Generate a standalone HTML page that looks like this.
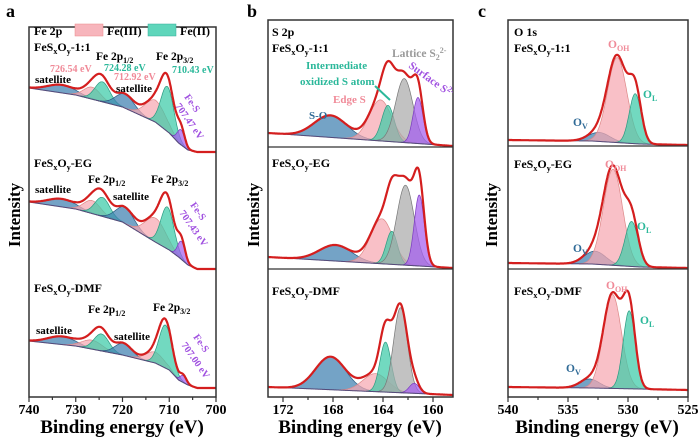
<!DOCTYPE html>
<html><head><meta charset="utf-8"><style>
html,body{margin:0;padding:0;background:#fff;}
svg, svg text{font-family:"Liberation Serif","Times New Roman",serif;font-weight:bold;}
</style></head><body>
<svg id="fig" width="700" height="440" viewBox="0 0 700 440" xmlns="http://www.w3.org/2000/svg" font-family="Liberation Serif, serif" font-weight="bold">
<g id="marks"></g>
<g id="texts" font-family="Liberation Serif, serif">
<text x="6" y="17" font-size="18">a</text>
<text x="247" y="17" font-size="18">b</text>
<text x="478" y="17" font-size="18">c</text>
<text transform="translate(20,215) rotate(-90)" text-anchor="middle" font-size="17">Intensity</text>
<text transform="translate(259,215) rotate(-90)" text-anchor="middle" font-size="17">Intensity</text>
<text transform="translate(497,215) rotate(-90)" text-anchor="middle" font-size="17">Intensity</text>
<text x="122" y="433" text-anchor="middle" font-size="19">Binding energy (eV)</text>
<text x="360" y="433" text-anchor="middle" font-size="19">Binding energy (eV)</text>
<text x="597" y="433" text-anchor="middle" font-size="19">Binding energy (eV)</text>

<!-- panel a labels -->
<g font-size="12">
<text x="34" y="35">Fe 2p</text>
<rect x="75" y="24" width="28" height="12" fill="#f7b5bc" stroke="#e88" stroke-width="0.5"/>
<text x="107" y="35">Fe(III)</text>
<rect x="148" y="24" width="28" height="12" fill="#5fd6bb" stroke="#3a9" stroke-width="0.5"/>
<text x="180" y="35">Fe(II)</text>
<text x="34" y="51">FeS<tspan font-size="8" dy="3">x</tspan><tspan dy="-3">O</tspan><tspan font-size="8" dy="3">y</tspan><tspan dy="-3">-1:1</tspan></text>
<text x="96" y="60" font-size="11.5">Fe 2p<tspan font-size="8" dy="3">1/2</tspan></text>
<text x="156" y="60" font-size="11.5">Fe 2p<tspan font-size="8" dy="3">3/2</tspan></text>
<text x="50" y="72" font-size="10" fill="#f08a98">726.54 eV</text>
<text x="104" y="71" font-size="10" fill="#2bb89a">724.28 eV</text>
<text x="114" y="80" font-size="10" fill="#f08a98">712.92 eV</text>
<text x="172" y="73" font-size="10" fill="#2bb89a">710.43 eV</text>
<text x="35" y="83" font-size="11">satellite</text>
<text x="116" y="92" font-size="11">satellite</text>
<text transform="translate(184,97) rotate(55)" font-size="10" fill="#a050e0">Fe-S</text>
<text transform="translate(175,106) rotate(55)" font-size="10" fill="#a050e0">707.47 eV</text>

<text x="34" y="167">FeS<tspan font-size="8" dy="3">x</tspan><tspan dy="-3">O</tspan><tspan font-size="8" dy="3">y</tspan><tspan dy="-3">-EG</tspan></text>
<text x="88" y="183" font-size="11.5">Fe 2p<tspan font-size="8" dy="3">1/2</tspan></text>
<text x="151" y="183" font-size="11.5">Fe 2p<tspan font-size="8" dy="3">3/2</tspan></text>
<text x="35" y="193" font-size="11">satellite</text>
<text x="113" y="200" font-size="11">satellite</text>
<text transform="translate(190,205) rotate(55)" font-size="10" fill="#a050e0">Fe-S</text>
<text transform="translate(179,213) rotate(55)" font-size="10" fill="#a050e0">707.43 eV</text>

<text x="34" y="292">FeS<tspan font-size="8" dy="3">x</tspan><tspan dy="-3">O</tspan><tspan font-size="8" dy="3">y</tspan><tspan dy="-3">-DMF</tspan></text>
<text x="88" y="313" font-size="11.5">Fe 2p<tspan font-size="8" dy="3">1/2</tspan></text>
<text x="153" y="311" font-size="11.5">Fe 2p<tspan font-size="8" dy="3">3/2</tspan></text>
<text x="36" y="334" font-size="11">satellite</text>
<text x="114" y="340" font-size="11">satellite</text>
<text transform="translate(193,337) rotate(55)" font-size="10" fill="#a050e0">Fe-S</text>
<text transform="translate(181,345) rotate(55)" font-size="10" fill="#a050e0">707.00 eV</text>
</g>

<!-- panel b labels -->
<g font-size="12">
<text x="272" y="36">S 2p</text>
<text x="272" y="52">FeS<tspan font-size="8" dy="3">x</tspan><tspan dy="-3">O</tspan><tspan font-size="8" dy="3">y</tspan><tspan dy="-3">-1:1</tspan></text>
<text x="392" y="57" font-size="11.5" fill="#9a9a9a">Lattice S<tspan font-size="8" dy="3">2</tspan><tspan font-size="8" dy="-7">2-</tspan></text>
<text x="306" y="69" font-size="11" fill="#2bb89a">Intermediate</text>
<text x="300" y="85" font-size="11" fill="#2bb89a">oxidized S atom</text>
<line x1="375" y1="86" x2="390" y2="100" stroke="#2bb89a" stroke-width="2"/>
<text x="333" y="103" font-size="11" fill="#f08a98">Edge S</text>
<text x="309" y="119" font-size="11" fill="#2f6a96">S-O</text>
<text transform="translate(408,67) rotate(36)" font-size="11" fill="#a050e0">Surface S<tspan font-size="8" dy="-4">2-</tspan></text>
<text x="272" y="167">FeS<tspan font-size="8" dy="3">x</tspan><tspan dy="-3">O</tspan><tspan font-size="8" dy="3">y</tspan><tspan dy="-3">-EG</tspan></text>
<text x="272" y="295">FeS<tspan font-size="8" dy="3">x</tspan><tspan dy="-3">O</tspan><tspan font-size="8" dy="3">y</tspan><tspan dy="-3">-DMF</tspan></text>
</g>

<!-- panel c labels -->
<g font-size="12">
<text x="514" y="36">O 1s</text>
<text x="514" y="52">FeS<tspan font-size="8" dy="3">x</tspan><tspan dy="-3">O</tspan><tspan font-size="8" dy="3">y</tspan><tspan dy="-3">-1:1</tspan></text>
<text x="608" y="48" font-size="11.5" fill="#f08a98">O<tspan font-size="8" dy="3">OH</tspan></text>
<text x="643" y="98" font-size="11.5" fill="#2bb89a">O<tspan font-size="8" dy="3">L</tspan></text>
<text x="573" y="126" font-size="11.5" fill="#2f6a96">O<tspan font-size="8" dy="3">V</tspan></text>
<text x="514" y="168">FeS<tspan font-size="8" dy="3">x</tspan><tspan dy="-3">O</tspan><tspan font-size="8" dy="3">y</tspan><tspan dy="-3">-EG</tspan></text>
<text x="605" y="168" font-size="11.5" fill="#f08a98">O<tspan font-size="8" dy="3">OH</tspan></text>
<text x="637" y="230" font-size="11.5" fill="#2bb89a">O<tspan font-size="8" dy="3">L</tspan></text>
<text x="573" y="252" font-size="11.5" fill="#2f6a96">O<tspan font-size="8" dy="3">V</tspan></text>
<text x="514" y="295">FeS<tspan font-size="8" dy="3">x</tspan><tspan dy="-3">O</tspan><tspan font-size="8" dy="3">y</tspan><tspan dy="-3">-DMF</tspan></text>
<text x="606" y="289" font-size="11.5" fill="#f08a98">O<tspan font-size="8" dy="3">OH</tspan></text>
<text x="640" y="324" font-size="11.5" fill="#2bb89a">O<tspan font-size="8" dy="3">L</tspan></text>
<text x="566" y="372" font-size="11.5" fill="#2f6a96">O<tspan font-size="8" dy="3">V</tspan></text>
</g>
</g>
</svg>
<script>
// ---------- data ----------
// Panel a: Fe 2p
const aTypes = ["sat","fe3","fe2","sat","fe3","fe2","fes"];
const aCenters = [[733.0,726.5,724.3,719.5,712.9,710.4,707.5],[733.0,726.5,724.3,719.5,712.9,710.4,707.4],[733.0,726.5,724.5,719.8,713.0,710.8,707.0]];
const aAmps = [[8,12,20,14,22,45,15],[8,13,19,16,24,42,18],[8,9,17,12,11,43,7]];
const aSigmas = [[3.0,1.8,1.6,2.0,2.2,1.4,0.8],[3.0,1.8,1.6,2.0,2.2,1.4,0.8],[3.0,2.2,1.6,1.8,2.0,1.4,0.7]];
const aBgE = [740,730,720,713,710,708,706,704,700];
const aBgV = [[64,57,45,30,19,9,2,0,0],[67,60,47,27,19,12,4,0,0],[47,42,33,25,18,8,3,0,0]];
const aBase = [152,269,388];
// Panel b: S 2p
const bTypes = ["so","edge","inter","lattice","surface"];
const bCenters = [[168.2,164.2,163.6,162.3,161.2],[167.8,164.1,163.3,162.2,161.1],[168.2,164.6,163.8,162.6,161.5]];
const bAmps = [[22,41,36,64,46],[16,45,33,80,71],[33,18,50,85,10]];
const bSigmas = [[1.3,0.9,0.5,0.7,0.4],[1.3,0.9,0.45,0.7,0.4],[1.2,1.0,0.45,0.55,0.4]];
const bBgE = [173.2,158.4];
const bBgV = [[13,0],[11,0],[8,0]];
const bBase = [146,268,395];
// Panel c: O 1s
const cTypes = ["ov","ooh","ol"];
const cCenters = [[532.4,530.9,529.4],[532.75,531.25,529.7],[533.2,531.3,529.9]];
const cAmps = [[9,85,50],[13,96,45],[9,94,78]];
const cSigmas = [[0.9,0.8,0.5],[0.9,0.8,0.55],[0.8,0.75,0.5]];
const cBgE = [540,533,529,525];
const cBgV = [[5,4,1,0],[5,4,1,0],[3,2,1,0]];
const cBase = [145,268,390];
// ticks
const aTicks = [740,730,720,710,700];
const bTicks = [172,168,164,160];
const cTicks = [540,535,530,525];

// ---------- styles ----------
const compStyle = {
  sat:{fill:"#3f7fb0",stroke:"#2a5a80"}, fe3:{fill:"#f7a8b2",stroke:"#d88"}, fe2:{fill:"#3ccaa8",stroke:"#2a9a80"},
  fes:{fill:"#a55df0",stroke:"#7a3ac0"}, so:{fill:"#3f7fb0",stroke:"#2a5a80"}, edge:{fill:"#f7a8b2",stroke:"#d88"},
  inter:{fill:"#3ccaa8",stroke:"#2a9a80"}, lattice:{fill:"#aaaaaa",stroke:"#777"}, surface:{fill:"#a55df0",stroke:"#7a3ac0"},
  ov:{fill:"#3f7fb0",stroke:"#2a5a80"}, ooh:{fill:"#f7a8b2",stroke:"#d88"}, ol:{fill:"#3ccaa8",stroke:"#2a9a80"}
};
const NS="http://www.w3.org/2000/svg";
const marks=document.getElementById('marks');
function mk(tag,attrs,parent){const e=document.createElementNS(NS,tag);for(const k in attrs)e.setAttribute(k,attrs[k]);(parent||marks).appendChild(e);return e;}
function interp(xs,ys,x){
  const asc=xs[0]<xs[xs.length-1];
  for(let i=0;i<xs.length-1;i++){const a=xs[i],b=xs[i+1];
    if((x<=a&&x>=b)||(x>=a&&x<=b)){const t=(x-a)/(b-a);return ys[i]+t*(ys[i+1]-ys[i]);}}
  return (asc? (x<xs[0]?ys[0]:ys[ys.length-1]) : (x>xs[0]?ys[0]:ys[ys.length-1]));
}
function gauss(x,c,a,s){return a*Math.exp(-((x-c)*(x-c))/(2*s*s));}

const panels=[
 {key:"a",eL:740,eR:700,xL:29,xR:216,top:27,bottom:397,types:aTypes,centers:aCenters,amps:aAmps,sigmas:aSigmas,bgE:aBgE,bgV:aBgV,base:aBase,ticks:aTicks,minor:5,step:0.1,dividers:false},
 {key:"b",eL:173.2,eR:158.4,xL:268,xR:453,top:20,bottom:397,types:bTypes,centers:bCenters,amps:bAmps,sigmas:bSigmas,bgE:bBgE,bgV:bBgV,base:bBase,ticks:bTicks,minor:2,step:0.04,dividers:true},
 {key:"c",eL:540,eR:525,xL:508,xR:688,top:20,bottom:397,types:cTypes,centers:cCenters,amps:cAmps,sigmas:cSigmas,bgE:cBgE,bgV:cBgV,base:cBase,ticks:cTicks,minor:2.5,step:0.04,dividers:true}
];

panels.forEach(p=>{
  const X=e=>p.xL+(p.eL-e)/(p.eL-p.eR)*(p.xR-p.xL);
  const g=mk('g',{});
  
  
  for(let s=0;s<3;s++){
    const Y=v=>p.base[s]-v;
    const sg=mk('g',{},g);
    
    
    const es=[];for(let e=p.eL;e>=p.eR-1e-9;e-=p.step)es.push(e);
    const bg=es.map(e=>interp(p.bgE,p.bgV[s],e));
    p.types.forEach((t,i)=>{
      const c=p.centers[s][i],a=p.amps[s][i],sd=p.sigmas[s][i];
      let top=[],bot=[];
      es.forEach((e,k)=>{const v=gauss(e,c,a,sd);if(v>0.15){top.push([X(e),Y(bg[k]+v)]);bot.push([X(e),Y(bg[k])]);}});
      if(!top.length)return;
      const d='M'+top.map(q=>q[0].toFixed(1)+','+q[1].toFixed(1)).join('L')+'L'+bot.reverse().map(q=>q[0].toFixed(1)+','+q[1].toFixed(1)).join('L')+'Z';
      const st=compStyle[t];
      const path=mk('path',{d:d,fill:st.fill,'fill-opacity':0.72,stroke:st.stroke,'stroke-width':0.7},sg);
      
      
    });
    const bl=mk('path',{d:'M'+es.map((e,k)=>X(e).toFixed(1)+','+Y(bg[k]).toFixed(1)).join('L'),fill:'none',stroke:'#554a7a','stroke-width':1},sg);
    
    
    const env=es.map((e,k)=>{let v=bg[k];p.types.forEach((t,i)=>{v+=gauss(e,p.centers[s][i],p.amps[s][i],p.sigmas[s][i]);});return v;});
    const el=mk('path',{d:'M'+es.map((e,k)=>X(e).toFixed(1)+','+Y(env[k]).toFixed(1)).join('L'),fill:'none',stroke:'#d41e1e','stroke-width':2.2,'stroke-linejoin':'round'},sg);
    
    
  }
  const fr=mk('rect',{x:p.xL,y:p.top,width:p.xR-p.xL,height:p.bottom-p.top,fill:'none',stroke:'#333','stroke-width':1.5},g);
  
  
  if(p.dividers){
    [0,1].forEach(i=>{
      const ln=mk('line',{x1:p.xL,x2:p.xR,y1:p.base[i]+1,y2:p.base[i]+1,stroke:'#333','stroke-width':1.2},g);
      
      
    });
  }
  const lo=Math.min(p.eL,p.eR),hi=Math.max(p.eL,p.eR);
  for(let e=Math.ceil(lo/p.minor)*p.minor;e<=hi+1e-9;e+=p.minor){
    const major=p.ticks.some(t=>Math.abs(t-e)<1e-6);
    const tk=mk('line',{x1:X(e),x2:X(e),y1:p.bottom,y2:p.bottom+(major?5:3),stroke:'#333','stroke-width':1.2},g);
    
    
  }
  p.ticks.forEach(t=>{
    const tx=mk('text',{x:X(t),y:p.bottom+17,'text-anchor':'middle','font-size':14,'font-family':'Liberation Serif, serif','font-weight':'bold'},g);
    tx.textContent=t;
    
    
  });
});
</script>
</body></html>
